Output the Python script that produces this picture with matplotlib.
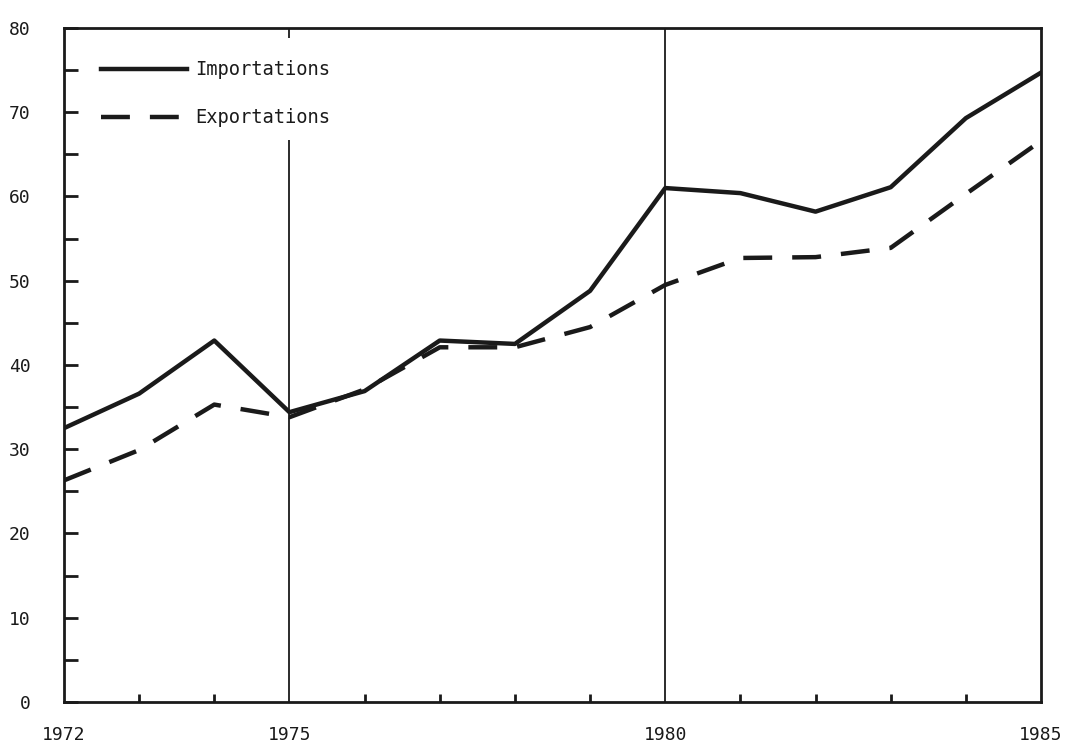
import numpy as np
import matplotlib
matplotlib.use("Agg")
import matplotlib.pyplot as plt
from matplotlib.ticker import MultipleLocator, FixedLocator

# valeurs
annees = list(range(1972, 1986))
importations = [32.5, 36.6, 42.9, 34.4, 36.9, 42.9, 42.5, 48.8, 61.0, 60.4, 58.2, 61.1, 69.3, 74.7]
exportations = [26.3, 29.9, 35.3, 33.8, 37.1, 42.1, 42.1, 44.5, 49.5, 52.7, 52.8, 53.9, 60.3, 66.6]
annees_labels = [1972, 1975, 1980, 1985]

plt.rcParams['font.family'] = ['DejaVu Sans Mono', 'DejaVu Sans']
couleur = '#1a1a1a'

fig = plt.figure(figsize=(10.75, 7.46), dpi=100)
ax = fig.add_axes([0.0595, 0.059, 0.9089, 0.9035])

ax.plot(annees, importations, color=couleur, lw=3.2, solid_joinstyle='round',
        label='Importations')
ax.plot(annees, exportations, color=couleur, lw=3.2, linestyle=(0, (6.5, 4.5)),
        dash_capstyle='butt', label='Exportations')

# lignes verticales de repere
ax.vlines(1980, 0, 80, color=couleur, lw=1.3)
ax.vlines(1975, 0, 66.7, color=couleur, lw=1.3)
ax.vlines(1975, 78.8, 80, color=couleur, lw=1.3)

ax.set_xlim(1972, 1985)
ax.set_ylim(0, 80)

ax.xaxis.set_major_locator(FixedLocator(annees_labels))
ax.xaxis.set_minor_locator(FixedLocator(annees))
ax.yaxis.set_major_locator(MultipleLocator(10))
ax.yaxis.set_minor_locator(MultipleLocator(5))

ax.tick_params(axis='y', which='both', direction='in', length=10, width=2,
               color=couleur, labelsize=13, pad=24, labelcolor=couleur)
ax.tick_params(axis='x', which='both', direction='in', length=6, width=2,
               color=couleur, labelsize=13, pad=17, labelcolor=couleur)
ax.tick_params(axis='x', which='major', length=0)

for s in ax.spines.values():
    s.set_linewidth(2)
    s.set_color(couleur)

leg = ax.legend(loc='upper left', bbox_to_anchor=(0.03, 0.963), frameon=False,
                handlelength=4.6, handletextpad=0.45, labelspacing=1.55,
                fontsize=13.5, borderaxespad=0)
for t in leg.get_texts():
    t.set_color(couleur)

fig.savefig('out.png', dpi=100, facecolor='white')
